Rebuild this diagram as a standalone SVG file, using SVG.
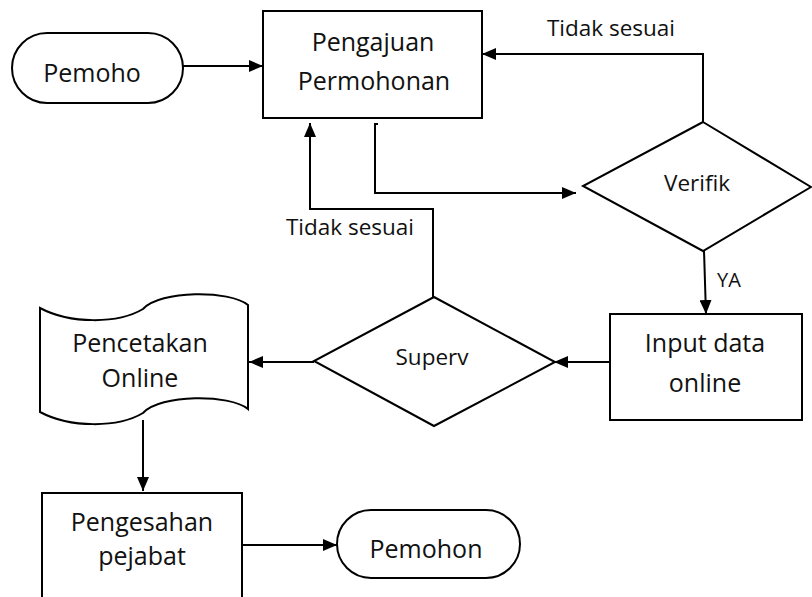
<svg xmlns="http://www.w3.org/2000/svg" width="812" height="597" viewBox="0 0 812 597">
  <defs>
    <marker id="arrow" viewBox="0 0 14 12" refX="14" refY="6" markerWidth="14" markerHeight="12" markerUnits="userSpaceOnUse" orient="auto">
      <path d="M0,0 L14,6 L0,12 Z" fill="#000"/>
    </marker>
    <style>
      .shape { fill: #fff; stroke: #000; stroke-width: 2; }
      .edge { fill: none; stroke: #000; stroke-width: 2; marker-end: url(#arrow); }
      .plain { fill: none; stroke: #000; stroke-width: 2; }
      text { font-family: "Open Sans", "Noto Sans", "Liberation Sans", sans-serif; fill: #111; }
      .main { font-size: 25px; text-anchor: middle; }
      .cond { font-size: 22.5px; text-anchor: middle; }
      .lbl { font-size: 22.5px; text-anchor: middle; }
    </style>
  </defs>
  <rect width="812" height="597" fill="#fff"/>

  <!-- connectors -->
  <g id="connectors">
    <path class="edge" d="M183,66 H263"/>
    <path class="edge" d="M378,124 H375 V193 H576"/>
    <path class="edge" d="M703,122 V54 H482"/>
    <path class="edge" d="M704,251 L706,314"/>
    <path class="edge" d="M610,362 H554"/>
    <path class="edge" d="M433,297 V209 H310 V123"/>
    <path class="edge" d="M314,362 H249"/>
    <path class="edge" d="M143,420 V491"/>
    <path class="edge" d="M242,545 H337"/>
    <text class="lbl" x="611" y="36">Tidak sesuai</text>
    <text class="lbl" x="350" y="235">Tidak sesuai</text>
    <text x="717" y="287" font-size="20">YA</text>
  </g>

  <!-- start terminal -->
  <g id="pemoho">
    <rect class="shape" x="12" y="33" width="171" height="70" rx="35" ry="35"/>
    <text class="main" x="92" y="82">Pemoho</text>
  </g>

  <!-- submission process -->
  <g id="pengajuan">
    <rect class="shape" x="263" y="11" width="219" height="107"/>
    <text class="main" x="373" y="51">Pengajuan</text>
    <text class="main" x="374" y="90">Permohonan</text>
  </g>

  <!-- verification decision -->
  <g id="verifik">
    <polygon class="shape" points="703,122 811,187 703,251 583,186"/>
    <text class="cond" x="697" y="191">Verifik</text>
  </g>

  <!-- online input -->
  <g id="input-data">
    <rect class="shape" x="610" y="314" width="192" height="106"/>
    <text class="main" x="705" y="352">Input data</text>
    <text class="main" x="705" y="392">online</text>
  </g>

  <!-- supervisor decision -->
  <g id="superv">
    <polygon class="shape" points="434,297 555,362 434,426 314,361"/>
    <text class="cond" x="432" y="365">Superv</text>
  </g>

  <!-- printing (punched tape) -->
  <g id="pencetakan">
    <path class="shape" d="M40,308 C70,324 118,324 143,309 C160,290 230,290 248,305 V409 C230,394 160,394 143,413 C118,428 70,428 40,412 Z"/>
    <text class="main" x="140" y="352">Pencetakan</text>
    <text class="main" x="140" y="387">Online</text>
  </g>

  <!-- approval -->
  <g id="pengesahan">
    <rect class="shape" x="42" y="493" width="200" height="110"/>
    <text class="main" x="142" y="531">Pengesahan</text>
    <text class="main" x="142" y="565">pejabat</text>
  </g>

  <!-- end terminal -->
  <g id="pemohon">
    <rect class="shape" x="337" y="510" width="183" height="68" rx="34" ry="34"/>
    <text class="main" x="426" y="558">Pemohon</text>
  </g>
</svg>
